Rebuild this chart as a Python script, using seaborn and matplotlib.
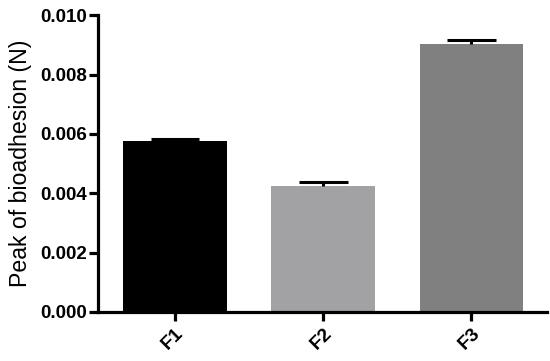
# Peak of bioadhesion bar chart
import numpy as np
import pandas as pd
import matplotlib
matplotlib.use("Agg")
import matplotlib.pyplot as plt
import seaborn as sns

formulations = ["F1", "F2", "F3"]
peak_means = [0.00575, 0.00424, 0.00902]
peak_errors = [0.00006, 0.00014, 0.00015]
bar_colors = ["#000000", "#a2a2a5", "#808080"]

df = pd.DataFrame({"formulation": formulations, "peak": peak_means})

sns.set_style("ticks")
plt.rcParams['font.family'] = ['Liberation Sans', 'DejaVu Sans']

fig = plt.figure(figsize=(5.5, 3.61), dpi=100)
ax = fig.add_axes([0.178, 0.136, 0.8165, 0.822])

sns.barplot(data=df, x="formulation", y="peak", hue="formulation",
            palette=bar_colors, width=0.7, legend=False, ax=ax,
            saturation=1, edgecolor="none")

# only the upper half of the error bar, like GraphPad
xpos = np.arange(len(formulations))
tops = np.array(peak_means) + np.array(peak_errors)
ax.vlines(xpos, peak_means, tops, color="black", linewidth=2.2, zorder=3)
ax.hlines(tops, xpos - 0.165, xpos + 0.165, color="black", linewidth=2.2, zorder=3)

ax.set_xlim(-0.52, 2.51)
ax.set_ylim(0, 0.010)
ax.set_yticks([0.000, 0.002, 0.004, 0.006, 0.008, 0.010])
ax.set_yticklabels([f"{v:.3f}" for v in ax.get_yticks()])
ax.set_xlabel("")
ax.set_ylabel("Peak of bioadhesion (N)", fontsize=16.7, labelpad=6, color="black")

for s in ["left", "bottom"]:
    ax.spines[s].set_linewidth(2.3)
    ax.spines[s].set_color("black")
sns.despine(ax=ax)
ax.tick_params(axis="both", width=2.3, length=6.5, pad=1.5, color="black",
               labelcolor="black")
ax.tick_params(axis="y", labelsize=13.5)
ax.tick_params(axis="x", labelsize=14, pad=3)
for lab in ax.get_yticklabels() + ax.get_xticklabels():
    lab.set_fontweight("bold")
plt.setp(ax.get_xticklabels(), rotation=45, ha="right", rotation_mode="anchor")

plt.savefig("out.png", dpi=100)
